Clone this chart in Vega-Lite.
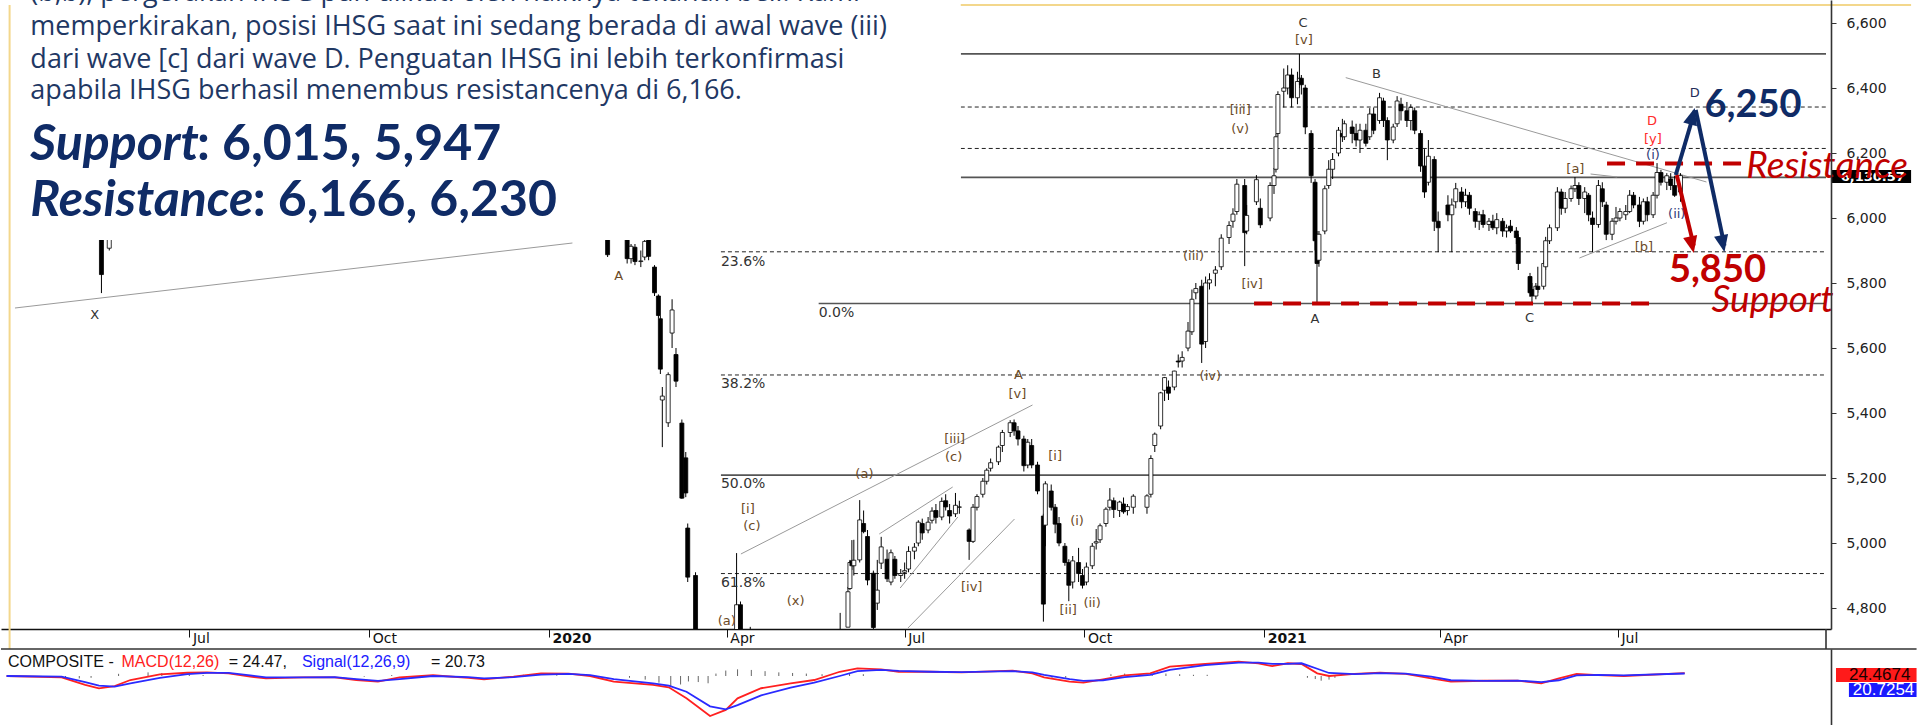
{
"$schema": "https://vega.github.io/schema/vega-lite/v6.json",
"padding": 0,
"spacing": 20,
"bounds": "flush",
"background": "white",
"config": {"view": {"stroke": null}},
"resolve": {"scale": {"x": "independent", "y": "independent"}},
"datasets": {
"candles": [
{"d":"2019-04-03","o":6450,"h":6490,"l":6420,"c":6475},
{"d":"2019-04-10","o":6470,"h":6480,"l":6380,"c":6410},
{"d":"2019-04-17","o":6410,"h":6530,"l":6400,"c":6507},
{"d":"2019-04-24","o":6500,"h":6510,"l":6410,"c":6447},
{"d":"2019-05-01","o":6440,"h":6460,"l":6350,"c":6375},
{"d":"2019-05-08","o":6370,"h":6380,"l":6230,"c":6270},
{"d":"2019-05-13","o":6260,"h":6270,"l":6110,"c":6150},
{"d":"2019-05-15","o":6100,"h":6110,"l":5990,"c":6017},
{"d":"2019-05-17","o":5935,"h":5950,"l":5769,"c":5826},
{"d":"2019-05-21","o":5907,"h":5960,"l":5900,"c":5951},
{"d":"2019-05-24","o":5960,"h":6070,"l":5950,"c":6057},
{"d":"2019-05-29","o":6060,"h":6120,"l":6030,"c":6104},
{"d":"2019-06-12","o":6200,"h":6290,"l":6190,"c":6276},
{"d":"2019-06-19","o":6250,"h":6350,"l":6240,"c":6336},
{"d":"2019-06-26","o":6330,"h":6360,"l":6290,"c":6339},
{"d":"2019-07-03","o":6350,"h":6390,"l":6340,"c":6375},
{"d":"2019-07-10","o":6370,"h":6400,"l":6330,"c":6358},
{"d":"2019-07-17","o":6380,"h":6440,"l":6370,"c":6403},
{"d":"2019-07-24","o":6400,"h":6410,"l":6320,"c":6333},
{"d":"2019-07-31","o":6330,"h":6390,"l":6320,"c":6390},
{"d":"2019-08-07","o":6250,"h":6290,"l":6120,"c":6206},
{"d":"2019-08-14","o":6250,"h":6290,"l":6240,"c":6257},
{"d":"2019-08-21","o":6240,"h":6270,"l":6210,"c":6253},
{"d":"2019-08-28","o":6270,"h":6310,"l":6230,"c":6281},
{"d":"2019-09-04","o":6280,"h":6300,"l":6210,"c":6261},
{"d":"2019-09-11","o":6350,"h":6390,"l":6330,"c":6381},
{"d":"2019-09-18","o":6240,"h":6280,"l":6220,"c":6233},
{"d":"2019-09-25","o":6150,"h":6170,"l":6130,"c":6146},
{"d":"2019-10-02","o":6080,"h":6120,"l":6040,"c":6055},
{"d":"2019-10-09","o":6030,"h":6060,"l":5990,"c":6029},
{"d":"2019-10-16","o":6150,"h":6190,"l":6130,"c":6181},
{"d":"2019-10-23","o":6220,"h":6260,"l":6200,"c":6225},
{"d":"2019-10-30","o":6300,"h":6320,"l":6260,"c":6295},
{"d":"2019-11-06","o":6260,"h":6290,"l":6210,"c":6217},
{"d":"2019-11-13","o":6150,"h":6160,"l":6100,"c":6143},
{"d":"2019-11-20","o":6140,"h":6170,"l":6100,"c":6122},
{"d":"2019-11-27","o":6020,"h":6060,"l":5970,"c":6020},
{"d":"2019-12-04","o":6100,"h":6150,"l":6070,"c":6133},
{"d":"2019-12-11","o":6160,"h":6220,"l":6130,"c":6193},
{"d":"2019-12-18","o":6200,"h":6290,"l":6190,"c":6284},
{"d":"2019-12-26","o":6290,"h":6330,"l":6260,"c":6319},
{"d":"2020-01-02","o":6300,"h":6320,"l":6260,"c":6283},
{"d":"2020-01-08","o":6270,"h":6280,"l":6210,"c":6225},
{"d":"2020-01-15","o":6290,"h":6330,"l":6270,"c":6283},
{"d":"2020-01-22","o":6230,"h":6260,"l":6200,"c":6233},
{"d":"2020-01-27","o":6150,"h":6160,"l":6080,"c":6112},
{"d":"2020-01-29","o":6100,"h":6140,"l":6050,"c":6113},
{"d":"2020-01-31","o":5990,"h":6010,"l":5880,"c":5887},
{"d":"2020-02-03","o":5950,"h":5990,"l":5935,"c":5978},
{"d":"2020-02-05","o":5990,"h":6040,"l":5960,"c":6004},
{"d":"2020-02-07","o":5990,"h":6010,"l":5950,"c":5999},
{"d":"2020-02-10","o":5990,"h":5995,"l":5860,"c":5875},
{"d":"2020-02-12","o":5875,"h":5920,"l":5860,"c":5913},
{"d":"2020-02-14","o":5910,"h":5920,"l":5855,"c":5866},
{"d":"2020-02-17","o":5866,"h":5900,"l":5849,"c":5868},
{"d":"2020-02-19","o":5880,"h":5940,"l":5870,"c":5928},
{"d":"2020-02-21","o":5940,"h":5950,"l":5870,"c":5882},
{"d":"2020-02-24","o":5849,"h":5855,"l":5760,"c":5770},
{"d":"2020-02-26","o":5760,"h":5765,"l":5690,"c":5700},
{"d":"2020-02-27","o":5690,"h":5700,"l":5520,"c":5535},
{"d":"2020-02-28","o":5440,"h":5480,"l":5295,"c":5452},
{"d":"2020-03-02","o":5370,"h":5525,"l":5357,"c":5518},
{"d":"2020-03-04","o":5646,"h":5750,"l":5600,"c":5717},
{"d":"2020-03-06","o":5580,"h":5600,"l":5480,"c":5498},
{"d":"2020-03-09","o":5369,"h":5380,"l":5136,"c":5138},
{"d":"2020-03-11","o":5262,"h":5280,"l":5141,"c":5154},
{"d":"2020-03-12","o":5046,"h":5060,"l":4880,"c":4895},
{"d":"2020-03-16","o":4900,"h":4910,"l":4600,"c":4690},
{"d":"2020-03-18","o":4450,"h":4500,"l":4300,"c":4330},
{"d":"2020-03-20","o":4150,"h":4250,"l":4100,"c":4195},
{"d":"2020-03-24","o":4000,"h":4050,"l":3911,"c":3937},
{"d":"2020-03-26","o":4300,"h":4380,"l":4200,"c":4338},
{"d":"2020-03-30","o":4400,"h":4500,"l":4380,"c":4414},
{"d":"2020-04-01","o":4500,"h":4560,"l":4450,"c":4466},
{"d":"2020-04-03","o":4600,"h":4650,"l":4550,"c":4623},
{"d":"2020-04-06","o":4700,"h":4969,"l":4650,"c":4810},
{"d":"2020-04-08","o":4810,"h":4820,"l":4560,"c":4626},
{"d":"2020-04-13","o":4640,"h":4742,"l":4580,"c":4623},
{"d":"2020-04-15","o":4620,"h":4650,"l":4520,"c":4625},
{"d":"2020-04-17","o":4630,"h":4660,"l":4590,"c":4635},
{"d":"2020-04-22","o":4550,"h":4600,"l":4520,"c":4567},
{"d":"2020-04-27","o":4500,"h":4520,"l":4450,"c":4513},
{"d":"2020-04-29","o":4600,"h":4620,"l":4570,"c":4600},
{"d":"2020-05-04","o":4600,"h":4610,"l":4520,"c":4607},
{"d":"2020-05-06","o":4640,"h":4660,"l":4590,"c":4627},
{"d":"2020-05-08","o":4610,"h":4640,"l":4590,"c":4597},
{"d":"2020-05-11","o":4600,"h":4640,"l":4580,"c":4639},
{"d":"2020-05-13","o":4560,"h":4580,"l":4540,"c":4554},
{"d":"2020-05-15","o":4510,"h":4530,"l":4480,"c":4507},
{"d":"2020-05-18","o":4500,"h":4530,"l":4480,"c":4509},
{"d":"2020-05-20","o":4550,"h":4610,"l":4540,"c":4575},
{"d":"2020-05-27","o":4630,"h":4660,"l":4610,"c":4641},
{"d":"2020-05-29","o":4700,"h":4785,"l":4690,"c":4716},
{"d":"2020-06-02","o":4741,"h":4865,"l":4741,"c":4850},
{"d":"2020-06-03","o":4860,"h":4948,"l":4855,"c":4940},
{"d":"2020-06-04","o":4945,"h":5009,"l":4917,"c":4930},
{"d":"2020-06-05","o":4930,"h":5010,"l":4900,"c":4947},
{"d":"2020-06-08","o":4948,"h":5132,"l":4940,"c":5071},
{"d":"2020-06-10","o":5060,"h":5100,"l":5030,"c":5035},
{"d":"2020-06-12","o":5020,"h":5040,"l":4870,"c":4886},
{"d":"2020-06-15","o":4907,"h":4915,"l":4720,"c":4740},
{"d":"2020-06-17","o":4815,"h":4948,"l":4794,"c":4855},
{"d":"2020-06-19","o":4938,"h":5019,"l":4920,"c":4988},
{"d":"2020-06-22","o":4950,"h":4980,"l":4880,"c":4890},
{"d":"2020-06-24","o":4880,"h":4980,"l":4870,"c":4970},
{"d":"2020-06-26","o":4950,"h":4960,"l":4890,"c":4900},
{"d":"2020-06-29","o":4900,"h":4920,"l":4880,"c":4906},
{"d":"2020-07-01","o":4910,"h":4940,"l":4890,"c":4915},
{"d":"2020-07-03","o":4920,"h":4990,"l":4910,"c":4974},
{"d":"2020-07-06","o":4975,"h":5000,"l":4950,"c":4987},
{"d":"2020-07-08","o":5000,"h":5070,"l":4990,"c":5064},
{"d":"2020-07-10","o":5060,"h":5075,"l":5010,"c":5031},
{"d":"2020-07-13","o":5040,"h":5080,"l":5030,"c":5064},
{"d":"2020-07-15","o":5070,"h":5110,"l":5060,"c":5098},
{"d":"2020-07-17","o":5100,"h":5120,"l":5060,"c":5079},
{"d":"2020-07-20","o":5080,"h":5140,"l":5070,"c":5128},
{"d":"2020-07-22","o":5130,"h":5150,"l":5100,"c":5111},
{"d":"2020-07-24","o":5100,"h":5120,"l":5060,"c":5083},
{"d":"2020-07-27","o":5090,"h":5154,"l":5080,"c":5116},
{"d":"2020-07-29","o":5110,"h":5130,"l":5090,"c":5111},
{"d":"2020-08-03","o":5040,"h":5045,"l":4948,"c":5005},
{"d":"2020-08-05","o":5005,"h":5120,"l":5000,"c":5110},
{"d":"2020-08-07","o":5110,"h":5150,"l":5100,"c":5143},
{"d":"2020-08-10","o":5150,"h":5200,"l":5140,"c":5190},
{"d":"2020-08-12","o":5190,"h":5230,"l":5180,"c":5224},
{"d":"2020-08-14","o":5230,"h":5260,"l":5220,"c":5247},
{"d":"2020-08-18","o":5250,"h":5300,"l":5240,"c":5295},
{"d":"2020-08-20","o":5300,"h":5348,"l":5280,"c":5340},
{"d":"2020-08-24","o":5340,"h":5378,"l":5326,"c":5370},
{"d":"2020-08-26","o":5370,"h":5380,"l":5330,"c":5345},
{"d":"2020-08-28","o":5345,"h":5360,"l":5300,"c":5320},
{"d":"2020-08-31","o":5320,"h":5330,"l":5220,"c":5238},
{"d":"2020-09-02","o":5240,"h":5320,"l":5230,"c":5310},
{"d":"2020-09-04","o":5300,"h":5320,"l":5230,"c":5240},
{"d":"2020-09-07","o":5240,"h":5250,"l":5150,"c":5160},
{"d":"2020-09-10","o":5083,"h":5090,"l":4758,"c":4812},
{"d":"2020-09-11","o":5055,"h":5190,"l":4990,"c":5182},
{"d":"2020-09-14","o":5160,"h":5180,"l":5100,"c":5110},
{"d":"2020-09-16","o":5110,"h":5120,"l":5030,"c":5058},
{"d":"2020-09-18","o":5060,"h":5080,"l":4990,"c":5000},
{"d":"2020-09-21","o":4990,"h":5000,"l":4930,"c":4940},
{"d":"2020-09-23","o":4940,"h":4950,"l":4821,"c":4870},
{"d":"2020-09-25","o":4880,"h":4960,"l":4860,"c":4945},
{"d":"2020-09-28","o":4940,"h":4985,"l":4880,"c":4906},
{"d":"2020-09-30","o":4900,"h":4920,"l":4860,"c":4870},
{"d":"2020-10-02","o":4880,"h":4940,"l":4870,"c":4926},
{"d":"2020-10-05","o":4930,"h":5000,"l":4920,"c":4990},
{"d":"2020-10-07","o":5000,"h":5043,"l":4980,"c":5004},
{"d":"2020-10-09","o":5010,"h":5060,"l":5000,"c":5053},
{"d":"2020-10-12","o":5060,"h":5110,"l":5050,"c":5104},
{"d":"2020-10-14","o":5110,"h":5169,"l":5100,"c":5132},
{"d":"2020-10-16","o":5130,"h":5140,"l":5077,"c":5103},
{"d":"2020-10-19","o":5100,"h":5130,"l":5080,"c":5126},
{"d":"2020-10-21","o":5120,"h":5140,"l":5090,"c":5096},
{"d":"2020-10-23","o":5100,"h":5120,"l":5085,"c":5112},
{"d":"2020-10-26","o":5110,"h":5150,"l":5090,"c":5144},
{"d":"2020-11-02","o":5110,"h":5150,"l":5090,"c":5145},
{"d":"2020-11-04","o":5150,"h":5270,"l":5140,"c":5260},
{"d":"2020-11-06","o":5300,"h":5340,"l":5280,"c":5335},
{"d":"2020-11-09","o":5360,"h":5465,"l":5350,"c":5462},
{"d":"2020-11-11","o":5470,"h":5511,"l":5437,"c":5509},
{"d":"2020-11-13","o":5480,"h":5500,"l":5440,"c":5461},
{"d":"2020-11-16","o":5480,"h":5530,"l":5470,"c":5529},
{"d":"2020-11-18","o":5560,"h":5580,"l":5540,"c":5557},
{"d":"2020-11-20","o":5560,"h":5590,"l":5540,"c":5571},
{"d":"2020-11-23","o":5600,"h":5680,"l":5590,"c":5652},
{"d":"2020-11-25","o":5650,"h":5780,"l":5640,"c":5750},
{"d":"2020-11-27","o":5770,"h":5800,"l":5750,"c":5783},
{"d":"2020-11-30","o":5790,"h":5810,"l":5554,"c":5612},
{"d":"2020-12-02","o":5620,"h":5820,"l":5600,"c":5800},
{"d":"2020-12-04","o":5800,"h":5830,"l":5780,"c":5810},
{"d":"2020-12-07","o":5830,"h":5852,"l":5790,"c":5840},
{"d":"2020-12-10","o":5850,"h":5950,"l":5840,"c":5938},
{"d":"2020-12-14","o":5940,"h":5990,"l":5920,"c":5977},
{"d":"2020-12-16","o":5990,"h":6030,"l":5970,"c":6012},
{"d":"2020-12-18","o":6020,"h":6120,"l":6010,"c":6104},
{"d":"2020-12-22","o":6100,"h":6120,"l":5852,"c":5955},
{"d":"2020-12-23","o":5960,"h":6040,"l":5950,"c":6008},
{"d":"2020-12-28","o":6050,"h":6132,"l":6040,"c":6118},
{"d":"2020-12-30","o":6030,"h":6060,"l":5969,"c":5979},
{"d":"2021-01-04","o":6000,"h":6110,"l":5990,"c":6100},
{"d":"2021-01-06","o":6100,"h":6154,"l":6074,"c":6130},
{"d":"2021-01-07","o":6150,"h":6260,"l":6140,"c":6250},
{"d":"2021-01-08","o":6260,"h":6390,"l":6250,"c":6380},
{"d":"2021-01-11","o":6390,"h":6460,"l":6340,"c":6400},
{"d":"2021-01-13","o":6400,"h":6470,"l":6380,"c":6440},
{"d":"2021-01-15","o":6440,"h":6460,"l":6340,"c":6370},
{"d":"2021-01-18","o":6370,"h":6450,"l":6350,"c":6420},
{"d":"2021-01-19","o":6420,"h":6505,"l":6400,"c":6430},
{"d":"2021-01-20","o":6430,"h":6440,"l":6380,"c":6410},
{"d":"2021-01-22","o":6400,"h":6410,"l":6258,"c":6280},
{"d":"2021-01-25","o":6260,"h":6270,"l":6108,"c":6130},
{"d":"2021-01-27","o":6110,"h":6120,"l":5900,"c":5930},
{"d":"2021-01-28","o":5930,"h":5960,"l":5740,"c":5860},
{"d":"2021-01-29","o":5870,"h":5960,"l":5850,"c":5950},
{"d":"2021-02-01","o":5960,"h":6100,"l":5950,"c":6090},
{"d":"2021-02-03","o":6100,"h":6178,"l":6090,"c":6150},
{"d":"2021-02-05","o":6150,"h":6200,"l":6120,"c":6180},
{"d":"2021-02-08","o":6200,"h":6280,"l":6190,"c":6270},
{"d":"2021-02-10","o":6260,"h":6305,"l":6234,"c":6250},
{"d":"2021-02-11","o":6250,"h":6300,"l":6240,"c":6290},
{"d":"2021-02-15","o":6280,"h":6300,"l":6230,"c":6260},
{"d":"2021-02-17","o":6260,"h":6290,"l":6220,"c":6240},
{"d":"2021-02-19","o":6240,"h":6290,"l":6200,"c":6270},
{"d":"2021-02-22","o":6270,"h":6290,"l":6220,"c":6230},
{"d":"2021-02-24","o":6250,"h":6338,"l":6240,"c":6320},
{"d":"2021-02-26","o":6320,"h":6340,"l":6258,"c":6270},
{"d":"2021-03-01","o":6300,"h":6385,"l":6290,"c":6370},
{"d":"2021-03-03","o":6360,"h":6370,"l":6280,"c":6300},
{"d":"2021-03-05","o":6300,"h":6310,"l":6178,"c":6240},
{"d":"2021-03-08","o":6240,"h":6290,"l":6230,"c":6280},
{"d":"2021-03-10","o":6290,"h":6375,"l":6280,"c":6360},
{"d":"2021-03-12","o":6350,"h":6370,"l":6300,"c":6330},
{"d":"2021-03-15","o":6330,"h":6357,"l":6280,"c":6300},
{"d":"2021-03-17","o":6300,"h":6350,"l":6270,"c":6340},
{"d":"2021-03-19","o":6330,"h":6340,"l":6258,"c":6270},
{"d":"2021-03-22","o":6260,"h":6270,"l":6142,"c":6160},
{"d":"2021-03-24","o":6160,"h":6212,"l":6062,"c":6080},
{"d":"2021-03-26","o":6110,"h":6240,"l":6100,"c":6190},
{"d":"2021-03-29","o":6180,"h":6190,"l":5960,"c":5990},
{"d":"2021-03-31","o":5990,"h":6020,"l":5895,"c":5970},
{"d":"2021-04-05","o":6040,"h":6070,"l":5990,"c":6010},
{"d":"2021-04-07","o":6010,"h":6060,"l":5895,"c":6040},
{"d":"2021-04-09","o":6050,"h":6108,"l":6030,"c":6090},
{"d":"2021-04-12","o":6080,"h":6095,"l":6030,"c":6050},
{"d":"2021-04-14","o":6050,"h":6090,"l":6034,"c":6070},
{"d":"2021-04-16","o":6070,"h":6080,"l":6010,"c":6030},
{"d":"2021-04-19","o":6020,"h":6030,"l":5970,"c":5990},
{"d":"2021-04-21","o":5990,"h":6020,"l":5963,"c":6010},
{"d":"2021-04-23","o":6010,"h":6025,"l":5970,"c":5980},
{"d":"2021-04-26","o":5980,"h":6000,"l":5960,"c":5990},
{"d":"2021-04-28","o":5990,"h":6010,"l":5963,"c":5970},
{"d":"2021-04-30","o":5970,"h":6015,"l":5950,"c":5995},
{"d":"2021-05-03","o":5990,"h":6000,"l":5942,"c":5960},
{"d":"2021-05-05","o":5960,"h":5980,"l":5940,"c":5970},
{"d":"2021-05-07","o":5975,"h":5994,"l":5954,"c":5960},
{"d":"2021-05-10","o":5960,"h":5972,"l":5920,"c":5940},
{"d":"2021-05-11","o":5940,"h":5950,"l":5840,"c":5860},
{"d":"2021-05-17","o":5820,"h":5831,"l":5757,"c":5770},
{"d":"2021-05-18","o":5780,"h":5800,"l":5740,"c":5760},
{"d":"2021-05-20","o":5760,"h":5800,"l":5750,"c":5790},
{"d":"2021-05-21","o":5790,"h":5850,"l":5770,"c":5780},
{"d":"2021-05-24","o":5790,"h":5870,"l":5780,"c":5860},
{"d":"2021-05-25","o":5850,"h":5942,"l":5840,"c":5930},
{"d":"2021-05-27","o":5930,"h":5980,"l":5920,"c":5970},
{"d":"2021-05-31","o":5970,"h":6095,"l":5960,"c":6080},
{"d":"2021-06-02","o":6080,"h":6090,"l":6010,"c":6030},
{"d":"2021-06-04","o":6030,"h":6080,"l":6015,"c":6060},
{"d":"2021-06-07","o":6060,"h":6100,"l":6050,"c":6090},
{"d":"2021-06-09","o":6090,"h":6126,"l":6080,"c":6100},
{"d":"2021-06-11","o":6100,"h":6110,"l":6040,"c":6060},
{"d":"2021-06-14","o":6060,"h":6095,"l":6015,"c":6080},
{"d":"2021-06-16","o":6070,"h":6077,"l":5990,"c":6010},
{"d":"2021-06-18","o":6000,"h":6020,"l":5895,"c":5980},
{"d":"2021-06-21","o":5980,"h":6117,"l":5970,"c":6100},
{"d":"2021-06-23","o":6090,"h":6110,"l":6034,"c":6050},
{"d":"2021-06-25","o":6040,"h":6050,"l":5932,"c":5950},
{"d":"2021-06-28","o":5950,"h":6000,"l":5932,"c":5990},
{"d":"2021-06-30","o":5990,"h":6034,"l":5980,"c":6000},
{"d":"2021-07-02","o":6000,"h":6030,"l":5990,"c":6020},
{"d":"2021-07-05","o":6010,"h":6040,"l":5994,"c":6020},
{"d":"2021-07-07","o":6020,"h":6086,"l":6015,"c":6070},
{"d":"2021-07-09","o":6070,"h":6080,"l":6030,"c":6040},
{"d":"2021-07-12","o":6040,"h":6065,"l":5972,"c":5990},
{"d":"2021-07-14","o":5990,"h":6060,"l":5980,"c":6050},
{"d":"2021-07-16","o":6050,"h":6065,"l":5990,"c":6010},
{"d":"2021-07-19","o":6010,"h":6080,"l":6000,"c":6070},
{"d":"2021-07-21","o":6070,"h":6169,"l":6060,"c":6140},
{"d":"2021-07-23","o":6140,"h":6148,"l":6100,"c":6110},
{"d":"2021-07-26","o":6110,"h":6138,"l":6086,"c":6130},
{"d":"2021-07-28","o":6120,"h":6138,"l":6086,"c":6100},
{"d":"2021-07-30","o":6100,"h":6130,"l":6065,"c":6070},
{"d":"2021-08-02","o":6080,"h":6138,"l":6050,"c":6130.57}
],
"hl": [
{"k":"s","p":6505,"d":"2020-07-29T17:00:00Z","d2":"2021-10-15T11:00:00Z"},
{"k":"s","p":6125,"d":"2020-07-29T17:00:00Z","d2":"2021-10-15T11:00:00Z"},
{"k":"s","p":5737,"d":"2020-05-18","d2":"2021-10-15T11:00:00Z"},
{"k":"s","p":5209,"d":"2020-03-29","d2":"2021-10-15T11:00:00Z"},
{"k":"d","p":6341.5,"d":"2020-07-29T17:00:00Z","d2":"2021-10-15T11:00:00Z"},
{"k":"d","p":6214,"d":"2020-07-29T17:00:00Z","d2":"2021-10-15T11:00:00Z"},
{"k":"d","p":5896,"d":"2020-03-29","d2":"2021-10-15T11:00:00Z"},
{"k":"d","p":5517,"d":"2020-03-29","d2":"2021-10-15T11:00:00Z"},
{"k":"d","p":4906,"d":"2020-03-29","d2":"2021-10-15T11:00:00Z"}
],
"tl": [
{"d":"2019-04-02T18:00:00Z","p":5723.1,"d2":"2020-01-13","p2":5923.1},
{"d":"2021-02-11T17:00:00Z","p":6432,"d2":"2021-08-15T07:00:00Z","p2":6110.8},
{"d":"2021-06-17","p":6135.4,"d2":"2021-06-30T14:00:00Z","p2":6126.2},
{"d":"2021-06-11T07:00:00Z","p":5876.9,"d2":"2021-07-26T02:00:00Z","p2":5985.5},
{"d":"2020-04-08T05:00:00Z","p":4966.2,"d2":"2020-09-04T10:00:00Z","p2":5424.6},
{"d":"2020-06-18","p":5027.7,"d2":"2020-07-25T14:00:00Z","p2":5172.3},
{"d":"2020-06-28T17:00:00Z","p":4861.5,"d2":"2020-07-28T05:00:00Z","p2":5080},
{"d":"2020-07-02T17:00:00Z","p":4738.5,"d2":"2020-08-26T05:00:00Z","p2":5073.8}
],
"waves": [
{"d":"2019-05-13T12:00:00Z","p":5701.5,"t":"X","c":"#333333"},
{"d":"2020-02-05T17:00:00Z","p":5821.5,"t":"A","c":"#6b4a26"},
{"d":"2020-04-01","p":4760,"t":"(a)","c":"#6b4a26"},
{"d":"2020-04-11T19:00:00Z","p":5104.6,"t":"[i]","c":"#6b4a26"},
{"d":"2020-04-13T19:00:00Z","p":5052.3,"t":"(c)","c":"#6b4a26"},
{"d":"2020-05-06T05:00:00Z","p":4821.5,"t":"(x)","c":"#6b4a26"},
{"d":"2020-06-10T10:00:00Z","p":5212.3,"t":"(a)","c":"#6b4a26"},
{"d":"2020-07-26T14:00:00Z","p":5320,"t":"[iii]","c":"#6b4a26"},
{"d":"2020-07-26T02:00:00Z","p":5264.6,"t":"(c)","c":"#6b4a26"},
{"d":"2020-08-28T05:00:00Z","p":5516.9,"t":"A","c":"#6b4a26"},
{"d":"2020-08-27T17:00:00Z","p":5458.5,"t":"[v]","c":"#6b4a26"},
{"d":"2020-08-04T07:00:00Z","p":4864.6,"t":"[iv]","c":"#6b4a26"},
{"d":"2020-09-16","p":5267.7,"t":"[i]","c":"#6b4a26"},
{"d":"2020-09-27T05:00:00Z","p":5067.7,"t":"(i)","c":"#6b4a26"},
{"d":"2020-09-22T17:00:00Z","p":4793.8,"t":"[ii]","c":"#6b4a26"},
{"d":"2020-10-04T22:00:00Z","p":4815.4,"t":"(ii)","c":"#6b4a26"},
{"d":"2020-12-04T10:00:00Z","p":5513.8,"t":"(iv)","c":"#6b4a26"},
{"d":"2020-11-25T19:00:00Z","p":5883.1,"t":"(iii)","c":"#6b4a26"},
{"d":"2020-12-25T19:00:00Z","p":5796.9,"t":"[iv]","c":"#6b4a26"},
{"d":"2020-12-19T17:00:00Z","p":6330.8,"t":"[iii]","c":"#6b4a26"},
{"d":"2020-12-19T17:00:00Z","p":6273.8,"t":"(v)","c":"#6b4a26"},
{"d":"2021-01-20T19:00:00Z","p":6600,"t":"C","c":"#333333"},
{"d":"2021-01-21T07:00:00Z","p":6547.7,"t":"[v]","c":"#6b4a26"},
{"d":"2021-01-26T22:00:00Z","p":5689.2,"t":"A","c":"#333333"},
{"d":"2021-02-27T10:00:00Z","p":6443.1,"t":"B","c":"#333333"},
{"d":"2021-05-16T19:00:00Z","p":5692.3,"t":"C","c":"#333333"},
{"d":"2021-06-09T05:00:00Z","p":6150.8,"t":"[a]","c":"#6b4a26"},
{"d":"2021-07-14T07:00:00Z","p":5910.8,"t":"[b]","c":"#6b4a26"},
{"d":"2021-07-18T10:00:00Z","p":6298.5,"t":"D","c":"#ff2a2a"},
{"d":"2021-07-18T22:00:00Z","p":6243.1,"t":"[y]","c":"#ff2a2a"},
{"d":"2021-07-18T22:00:00Z","p":6193.8,"t":"(i)","c":"#2e3a78"},
{"d":"2021-07-31T02:00:00Z","p":6012.3,"t":"(ii)","c":"#2e3a78"},
{"d":"2021-08-09T07:00:00Z","p":6384.6,"t":"D","c":"#1f2d5a"}
],
"macd": [
{"d":"2019-04-01","m":0,"s":0},
{"d":"2019-04-29","m":-11,"s":-5},
{"d":"2019-05-11","m":-74,"s":-50},
{"d":"2019-05-18","m":-102,"s":-80},
{"d":"2019-05-26","m":-83,"s":-88},
{"d":"2019-06-03","m":-33,"s":-60},
{"d":"2019-06-18","m":14,"s":-15},
{"d":"2019-07-02","m":27,"s":15},
{"d":"2019-07-12","m":30,"s":25},
{"d":"2019-07-23","m":22,"s":25},
{"d":"2019-08-03","m":-5,"s":5},
{"d":"2019-08-11","m":-19,"s":-12},
{"d":"2019-08-30","m":-11,"s":-12},
{"d":"2019-09-15","m":-11,"s":-10},
{"d":"2019-09-26","m":-33,"s":-25},
{"d":"2019-10-07","m":-47,"s":-40},
{"d":"2019-10-18","m":-11,"s":-25},
{"d":"2019-11-04","m":6,"s":0},
{"d":"2019-11-22","m":-16,"s":-10},
{"d":"2019-11-30","m":-27,"s":-20},
{"d":"2019-12-15","m":-5,"s":-10},
{"d":"2019-12-29","m":22,"s":12},
{"d":"2020-01-12","m":19,"s":18},
{"d":"2020-01-23","m":0,"s":8},
{"d":"2020-02-04","m":-47,"s":-25},
{"d":"2020-02-24","m":-74,"s":-60},
{"d":"2020-03-03","m":-93,"s":-80},
{"d":"2020-03-12","m":-184,"s":-130},
{"d":"2020-03-24","m":-330,"s":-250},
{"d":"2020-04-01","m":-280,"s":-275},
{"d":"2020-04-07","m":-184,"s":-240},
{"d":"2020-04-19","m":-101,"s":-160},
{"d":"2020-05-04","m":-60,"s":-95},
{"d":"2020-05-16","m":-33,"s":-55},
{"d":"2020-05-29","m":35,"s":0},
{"d":"2020-06-07","m":63,"s":40},
{"d":"2020-06-19","m":55,"s":50},
{"d":"2020-06-28","m":35,"s":42},
{"d":"2020-07-14","m":35,"s":35},
{"d":"2020-07-30","m":30,"s":32},
{"d":"2020-08-25","m":44,"s":40},
{"d":"2020-09-04","m":22,"s":30},
{"d":"2020-09-10","m":-11,"s":10},
{"d":"2020-09-23","m":-47,"s":-25},
{"d":"2020-09-30","m":-55,"s":-40},
{"d":"2020-10-10","m":-27,"s":-35},
{"d":"2020-10-21","m":6,"s":-10},
{"d":"2020-11-03","m":22,"s":10},
{"d":"2020-11-13","m":77,"s":50},
{"d":"2020-12-01","m":99,"s":90},
{"d":"2020-12-18","m":118,"s":110},
{"d":"2020-12-28","m":105,"s":110},
{"d":"2021-01-04","m":82,"s":100},
{"d":"2021-01-12","m":105,"s":100},
{"d":"2021-01-19","m":99,"s":105},
{"d":"2021-01-27","m":22,"s":60},
{"d":"2021-02-02","m":0,"s":25},
{"d":"2021-02-15","m":17,"s":15},
{"d":"2021-02-28","m":27,"s":24},
{"d":"2021-03-13","m":17,"s":20},
{"d":"2021-03-26","m":-19,"s":-5},
{"d":"2021-04-05","m":-47,"s":-35},
{"d":"2021-04-22","m":-39,"s":-40},
{"d":"2021-05-09","m":-39,"s":-38},
{"d":"2021-05-21","m":-60,"s":-50},
{"d":"2021-05-30","m":-19,"s":-35},
{"d":"2021-06-08","m":17,"s":5},
{"d":"2021-06-19","m":8,"s":10},
{"d":"2021-07-02","m":0,"s":5},
{"d":"2021-08-02","m":24.47,"s":20.73}
],
"hist": [
{"d":"2019-05-01","m":-12},{"d":"2019-05-08","m":-20},{"d":"2019-05-14","m":-15},
{"d":"2019-05-28","m":18},{"d":"2019-06-12","m":30},{"d":"2019-06-19","m":25},
{"d":"2019-07-03","m":12},{"d":"2019-07-10","m":8},{"d":"2019-09-30","m":-6},
{"d":"2019-10-14","m":8},{"d":"2019-12-20","m":10},{"d":"2020-01-06","m":6},
{"d":"2020-02-12","m":-15},{"d":"2020-02-20","m":-30},{"d":"2020-02-27","m":-55},
{"d":"2020-03-04","m":-88},{"d":"2020-03-09","m":-70},{"d":"2020-03-13","m":-45},
{"d":"2020-03-18","m":-50},{"d":"2020-03-23","m":-60},{"d":"2020-03-27","m":20},
{"d":"2020-04-01","m":45},{"d":"2020-04-07","m":55},{"d":"2020-04-14","m":50},
{"d":"2020-04-21","m":40},{"d":"2020-04-28","m":30},{"d":"2020-05-05","m":25},
{"d":"2020-05-12","m":20},{"d":"2020-05-20","m":15},{"d":"2020-06-03","m":20},
{"d":"2020-06-10","m":15},{"d":"2020-09-14","m":-15},{"d":"2020-09-21","m":-15},
{"d":"2020-10-14","m":15},{"d":"2020-10-21","m":20},{"d":"2020-11-04","m":15},
{"d":"2020-11-11","m":20},{"d":"2020-11-18","m":15},{"d":"2020-11-25","m":10},
{"d":"2020-12-02","m":10},{"d":"2021-01-22","m":-15},{"d":"2021-01-26","m":-25},
{"d":"2021-01-29","m":-39},{"d":"2021-02-02","m":-30},{"d":"2021-02-05","m":-15},
{"d":"2021-06-07","m":10},{"d":"2021-06-14","m":8}
]
},
"vconcat": [
{
"width": 1830,
"height": 629,
"encoding": {
"x": {"field": "d", "type": "temporal",
 "scale": {"type": "utc", "nice": false,
  "domain": [{"year":2019,"month":3,"date":29,"hours":3,"minutes":50,"utc":true},{"year":2021,"month":10,"date":15,"hours":11,"utc":true}]},
 "axis": {"title": null, "grid": false, "orient": "bottom",
  "values": [{"year":2019,"month":7,"date":1,"utc":true},{"year":2019,"month":10,"date":1,"utc":true},{"year":2020,"month":1,"date":1,"utc":true},{"year":2020,"month":4,"date":1,"utc":true},{"year":2020,"month":7,"date":1,"utc":true},{"year":2020,"month":10,"date":1,"utc":true},{"year":2021,"month":1,"date":1,"utc":true},{"year":2021,"month":4,"date":1,"utc":true},{"year":2021,"month":7,"date":1,"utc":true}],
  "labelExpr": "utcmonth(datum.value) == 0 ? utcFormat(datum.value, '%Y') : utcFormat(datum.value, '%b')",
  "labelFontWeight": {"condition": {"test": "utcmonth(datum.value) == 0", "value": "bold"}, "value": "normal"},
  "domainColor": "#111111", "domainWidth": 1.6, "tickColor": "#111111", "tickSize": 8,
  "labelAlign": "left", "labelBaseline": "top", "labelPadding": -6, "labelOffset": 3,
  "labelFont": "DejaVu Sans", "labelFontSize": 14, "labelColor": "#111111", "labelFlush": false, "labelOverlap": false}},
"y": {"field": "p", "type": "quantitative",
 "scale": {"domain": [4735.4, 6670.8], "nice": false, "zero": false},
 "axis": {"title": null, "grid": false, "orient": "right", "values": [4800,5000,5200,5400,5600,5800,6000,6200,6400,6600], "format": ",d", "zindex": 1,
  "domainColor": "#333333", "domainWidth": 1.6, "tickColor": "#333333", "tickSize": 5, "labelPadding": 10,
  "labelFont": "DejaVu Sans", "labelFontSize": 14, "labelColor": "#222222", "labelAlign": "left"}}
},
"layer": [
{"data": {"name": "hl"}, "transform": [{"filter": "datum.k == 's'"}], "mark": {"type": "rule", "color": "#555555", "strokeWidth": 1.6}, "encoding": {"x2": {"field": "d2"}}},
{"data": {"name": "hl"}, "transform": [{"filter": "datum.k == 'd'"}], "mark": {"type": "rule", "color": "#222222", "strokeWidth": 1, "strokeDash": [4, 3]}, "encoding": {"x2": {"field": "d2"}}},
{"data": {"name": "tl"}, "mark": {"type": "rule", "color": "#9a9a9a", "strokeWidth": 1}, "encoding": {"x2": {"field": "d2"}, "y2": {"field": "p2"}}},
{"data": {"name": "candles"}, "mark": {"type": "rule", "color": "#000000", "strokeWidth": 1, "clip": true},
 "encoding": {"y": {"field": "l", "type": "quantitative", "scale": {"domain": [4735.4, 6670.8], "nice": false, "zero": false},
  "axis": {"title": null, "grid": false, "orient": "right", "values": [4800,5000,5200,5400,5600,5800,6000,6200,6400,6600], "format": ",d", "zindex": 1,
  "domainColor": "#333333", "domainWidth": 1.6, "tickColor": "#333333", "tickSize": 5, "labelPadding": 10,
  "labelFont": "DejaVu Sans", "labelFontSize": 14, "labelColor": "#222222", "labelAlign": "left"}}, "y2": {"field": "h"}}},
{"data": {"name": "candles"}, "mark": {"type": "bar", "size": 4, "stroke": "#000000", "strokeWidth": 0.8, "clip": true},
 "encoding": {"y": {"field": "o", "type": "quantitative", "scale": {"domain": [4735.4, 6670.8], "nice": false, "zero": false},
  "axis": {"title": null, "grid": false, "orient": "right", "values": [4800,5000,5200,5400,5600,5800,6000,6200,6400,6600], "format": ",d", "zindex": 1,
  "domainColor": "#333333", "domainWidth": 1.6, "tickColor": "#333333", "tickSize": 5, "labelPadding": 10,
  "labelFont": "DejaVu Sans", "labelFontSize": 14, "labelColor": "#222222", "labelAlign": "left"}}, "y2": {"field": "c"},
  "fill": {"condition": {"test": "datum.c > datum.o", "value": "#ffffff"}, "value": "#000000"}}},
{"data": {"values": [{"d": "2019-03-29", "d2": "2020-07-29T17:00:00Z", "p": 5932.3, "p2": 6670.8}]}, "mark": {"type": "rect", "fill": "#ffffff", "clip": true}, "encoding": {"x2": {"field": "d2"}, "y2": {"field": "p2"}}},
{"data": {"values": [
 {"d": "2019-04-10T15:00:00Z", "p": 6667.7, "t": "(b,b), pergerakan IHSG pun diikuti oleh naiknya tekanan beli. Kami"},
 {"d": "2019-04-10T15:00:00Z", "p": 6564.6, "t": "memperkirakan, posisi IHSG saat ini sedang berada di awal wave (iii)"},
 {"d": "2019-04-10T15:00:00Z", "p": 6461.5, "t": "dari wave [c] dari wave D. Penguatan IHSG ini lebih terkonfirmasi"},
 {"d": "2019-04-10T15:00:00Z", "p": 6367.7, "t": "apabila IHSG berhasil menembus resistancenya di 6,166."}]},
 "mark": {"type": "text", "align": "left", "baseline": "alphabetic", "font": "Open Sans", "fontSize": 27, "color": "#1f3864", "clip": true},
 "encoding": {"text": {"field": "t"}}},
{"data": {"values": [
 {"d": "2019-04-10T15:00:00Z", "p": 6178.5, "t": "Support"},
 {"d": "2019-04-10T15:00:00Z", "p": 6006.2, "t": "Resistance"}]},
 "mark": {"type": "text", "align": "left", "baseline": "alphabetic", "font": "Lato", "fontSize": 50, "fontWeight": "bold", "fontStyle": "italic", "color": "#0f2b66"},
 "encoding": {"text": {"field": "t"}}},
{"data": {"values": [
 {"d": "2019-07-04T22:00:00Z", "p": 6178.5, "t": ": 6,015, 5,947"},
 {"d": "2019-08-02T10:00:00Z", "p": 6006.2, "t": ": 6,166, 6,230"}]},
 "mark": {"type": "text", "align": "left", "baseline": "alphabetic", "font": "Lato", "fontSize": 50, "fontWeight": "bold", "color": "#0f2b66"},
 "encoding": {"text": {"field": "t"}}},
{"data": {"values": [
 {"d": "2020-03-29", "p": 5865.5, "t": "23.6%"},
 {"d": "2020-05-18", "p": 5708.6, "t": "0.0%"},
 {"d": "2020-03-29", "p": 5489.2, "t": "38.2%"},
 {"d": "2020-03-29", "p": 5181.5, "t": "50.0%"},
 {"d": "2020-03-29", "p": 4877.8, "t": "61.8%"}]},
 "mark": {"type": "text", "align": "left", "baseline": "middle", "font": "DejaVu Sans", "fontSize": 14, "color": "#333333"},
 "encoding": {"text": {"field": "t"}}},
{"data": {"name": "waves"}, "mark": {"type": "text", "align": "center", "baseline": "middle", "font": "DejaVu Sans", "fontSize": 13},
 "encoding": {"text": {"field": "t"}, "color": {"field": "c", "type": "nominal", "scale": null}}},
{"data": {"values": [
 {"p": 5737, "d": "2020-12-26T19:00:00Z", "d2": "2021-07-20T22:00:00Z"},
 {"p": 6168, "d": "2021-06-25T10:00:00Z", "d2": "2021-09-02T05:00:00Z"}]},
 "mark": {"type": "rule", "color": "#c00000", "strokeWidth": 4, "strokeDash": [18, 11]},
 "encoding": {"x2": {"field": "d2"}}},
{"data": {"values": [
 {"d": "2021-07-30T14:00:00Z", "p": 6132.3, "d2": "2021-08-09T07:00:00Z", "p2": 6330, "c": "#0f2b66"},
 {"d": "2021-08-09T19:00:00Z", "p": 6332.3, "d2": "2021-08-24T12:00:00Z", "p2": 5915, "c": "#0f2b66"},
 {"d": "2021-07-31T02:00:00Z", "p": 6132.3, "d2": "2021-08-08T19:00:00Z", "p2": 5915, "c": "#c00000"}]},
 "mark": {"type": "rule", "strokeWidth": 4},
 "encoding": {"x2": {"field": "d2"}, "y2": {"field": "p2"}, "color": {"field": "c", "type": "nominal", "scale": null}}},
{"data": {"values": [
 {"d": "2021-08-09T07:00:00Z", "p": 6338.5, "a": 15.8, "c": "#0f2b66"},
 {"d": "2021-08-24T12:00:00Z", "p": 5895.4, "a": 168.5, "c": "#0f2b66"},
 {"d": "2021-08-08T19:00:00Z", "p": 5892.3, "a": 167.7, "c": "#c00000"}]},
 "mark": {"type": "point", "shape": "M0,0L0.42,1L-0.42,1Z", "filled": true, "size": 1156, "strokeWidth": 0, "opacity": 1},
 "encoding": {"angle": {"field": "a", "type": "quantitative", "scale": null}, "color": {"field": "c", "type": "nominal", "scale": null}}},
{"data": {"values": [
 {"d": "2021-08-14T07:00:00Z", "p": 6310.8, "t": "6,250", "c": "#0f2b66"},
 {"d": "2021-07-27T02:00:00Z", "p": 5803.1, "t": "5,850", "c": "#c00000"}]},
 "mark": {"type": "text", "align": "left", "baseline": "alphabetic", "font": "Lato", "fontSize": 38, "fontWeight": "bold"},
 "encoding": {"text": {"field": "t"}, "color": {"field": "c", "type": "nominal", "scale": null}}},
{"data": {"values": [{"d": "2021-10-18T12:00:00Z", "d2": "2021-11-28", "p": 6107.7, "p2": 6147.7}]},
 "mark": {"type": "rect", "fill": "#000000"}, "encoding": {"x2": {"field": "d2"}, "y2": {"field": "p2"}}},
{"data": {"values": [{"d": "2021-10-23", "p": 6127.7, "t": "6,130.57"}]},
 "mark": {"type": "text", "align": "left", "baseline": "middle", "font": "DejaVu Sans", "fontSize": 13, "fontWeight": "bold", "color": "#ffffff"},
 "encoding": {"text": {"field": "t"}}},
{"data": {"values": [
 {"d": "2021-09-04T17:00:00Z", "p": 6123.1, "t": "Resistance"},
 {"d": "2021-08-17T22:00:00Z", "p": 5710.8, "t": "Support"}]},
 "mark": {"type": "text", "align": "left", "baseline": "alphabetic", "font": "Lato", "fontSize": 37, "fontStyle": "italic", "color": "#c00000"},
 "encoding": {"text": {"field": "t"}}},
{"data": {"values": [{"d": "2020-07-29T17:00:00Z", "d2": "2021-11-28", "p": 6655.4}]},
 "mark": {"type": "rule", "color": "#f3d78c", "strokeWidth": 2}, "encoding": {"x2": {"field": "d2"}}},
{"data": {"values": [{"d": "2019-03-31", "p": 6655.4, "p2": 4673.9}]},
 "mark": {"type": "rule", "color": "#f3d78c", "strokeWidth": 2}, "encoding": {"y2": {"field": "p2"}}},
{"data": {"values": [{"d": "2021-10-15T11:00:00Z", "p": 4735.4, "p2": 4673.9}]},
 "mark": {"type": "rule", "color": "#333333", "strokeWidth": 1.6}, "encoding": {"y2": {"field": "p2"}}}
]
},
{
"width": 1830,
"height": 76,
"encoding": {
"x": {"field": "d", "type": "temporal", "axis": null,
 "scale": {"type": "utc", "nice": false,
  "domain": [{"year":2019,"month":3,"date":29,"hours":3,"minutes":50,"utc":true},{"year":2021,"month":10,"date":15,"hours":11,"utc":true}]}},
"y": {"field": "m", "type": "quantitative", "scale": {"domain": [-404.3, 222.8], "nice": false, "zero": false},
 "axis": {"title": null, "grid": false, "orient": "right", "labels": false, "ticks": false, "domainColor": "#333333", "domainWidth": 1.6, "zindex": 1}}
},
"layer": [
{"data": {"values": [{"d": "2019-03-29T03:50:00Z", "d2": "2021-11-28", "m": 222.8}]},
 "mark": {"type": "rule", "color": "#333333", "strokeWidth": 1.6},
 "encoding": {"x2": {"field": "d2"}}},
{"data": {"name": "hist"}, "mark": {"type": "rule", "color": "#666666", "strokeWidth": 1},
 "encoding": {"y2": {"datum": 0}}},
{"data": {"name": "macd"}, "mark": {"type": "line", "color": "#ff2020", "strokeWidth": 1.8}},
{"data": {"name": "macd"}, "mark": {"type": "line", "color": "#2a2aff", "strokeWidth": 1.8},
 "encoding": {"y": {"field": "s", "type": "quantitative", "scale": {"domain": [-404.3, 222.8], "nice": false, "zero": false},
  "axis": {"title": null, "grid": false, "orient": "right", "labels": false, "ticks": false, "domainColor": "#333333", "domainWidth": 1.6, "zindex": 1}}}},
{"data": {"values": [
 {"d": "2019-04-01T17:00:00Z", "m": 115.5, "t": "COMPOSITE - ", "c": "#111111"},
 {"d": "2019-05-29T12:00:00Z", "m": 115.5, "t": "MACD(12,26)", "c": "#ff2020"},
 {"d": "2019-07-23", "m": 115.5, "t": "= 24.47,", "c": "#111111"},
 {"d": "2019-08-29T07:00:00Z", "m": 115.5, "t": "Signal(12,26,9)", "c": "#2020ff"},
 {"d": "2019-11-03", "m": 115.5, "t": "= 20.73", "c": "#111111"}]},
 "mark": {"type": "text", "align": "left", "baseline": "middle", "font": "Liberation Sans", "fontSize": 16},
 "encoding": {"text": {"field": "t"}, "color": {"field": "c", "type": "nominal", "scale": null}}},
{"data": {"values": [
 {"d": "2021-10-18", "d2": "2021-11-28", "m": 66, "m2": -49.5, "c": "#ff1a1a"},
 {"d": "2021-10-24T14:00:00Z", "d2": "2021-11-28", "m": -57.8, "m2": -173.3, "c": "#1a1aff"}]},
 "mark": {"type": "rect"},
 "encoding": {"x2": {"field": "d2"}, "y2": {"field": "m2"}, "fill": {"field": "c", "type": "nominal", "scale": null}}},
{"data": {"values": [
 {"d": "2021-10-24T14:00:00Z", "m": 8.3, "t": "24.4674", "c": "#1a0000"},
 {"d": "2021-10-26T14:00:00Z", "m": -115.5, "t": "20.7254", "c": "#ffffff"}]},
 "mark": {"type": "text", "align": "left", "baseline": "middle", "font": "Liberation Sans", "fontSize": 17},
 "encoding": {"text": {"field": "t"}, "color": {"field": "c", "type": "nominal", "scale": null}}}
]
}
]
}
